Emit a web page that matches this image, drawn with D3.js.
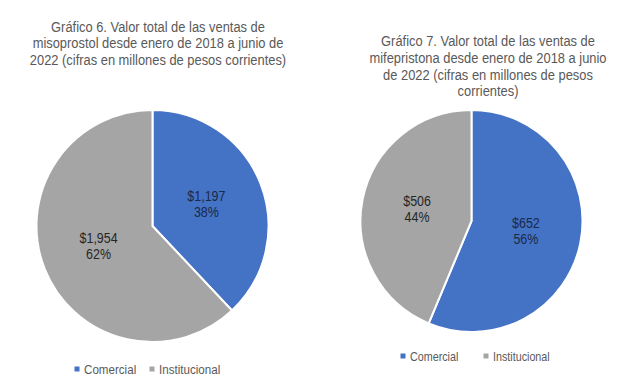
<!DOCTYPE html>
<html>
<head>
<meta charset="utf-8">
<script src="https://cdn.jsdelivr.net/npm/d3@7"></script>
<style>
  body { margin: 0; background: #fff; }
  svg text { font-family: "Liberation Sans Narrow", "Arial Narrow", "Liberation Sans", Arial, sans-serif; }
</style>
</head>
<body>
<div id="chart"></div>
<script>
// categorias y valores (millones de pesos corrientes)
var categorias = ["Comercial", "Institucional"];
var valoresMiso = [1197, 1954];
var valoresMife = [652, 506];
var colores = ["#4472C4", "#A5A5A5"];

var tituloMiso = ["Gráfico 6. Valor total de las ventas de",
                  "misoprostol desde enero de 2018 a junio de",
                  "2022 (cifras en millones de pesos corrientes)"];
var tituloMife = ["Gráfico 7. Valor total de las ventas de",
                  "mifepristona desde enero de 2018 a junio",
                  "de 2022 (cifras en millones de pesos",
                  "corrientes)"];

var width = 642,
    height = 387;

// la fuente del original es angosta: comprimo el texto en horizontal
var angosto = 0.86;

var svg = d3.select("#chart")
    .append("svg")
    .attr("width", width)
    .attr("height", height);

var color = d3.scaleOrdinal().domain(categorias).range(colores);
var formato = d3.format("$,");

function dibujarPie(opts) {
    var datos = categorias.map(function(c, i) { return {cat: c, valor: opts.valores[i]}; });
    var total = d3.sum(opts.valores);

    // titulo
    var t = svg.append("g")
        .attr("transform", "translate(" + opts.tx + "," + opts.ty + ") scale(" + angosto + ",1)")
        .append("text")
        .attr("text-anchor", "middle")
        .attr("fill", "#595959")
        .attr("font-size", opts.tituloSize);
    opts.titulo.forEach(function(linea, i) {
        t.append("tspan")
            .attr("x", 0)
            .attr("y", i * opts.lineH)
            .text(linea);
    });

    var g = svg.append("g")
        .attr("transform", "translate(" + opts.cx + "," + opts.cy + ")");

    var pie = d3.pie().sort(null).value(function(d) { return d.valor; });
    var arc = d3.arc().innerRadius(0).outerRadius(opts.r);

    var arcos = pie(datos);

    g.selectAll("path")
        .data(arcos)
        .enter().append("path")
        .attr("d", arc)
        .attr("fill", function(d) { return color(d.data.cat); })
        .attr("stroke", "#fff")
        .attr("stroke-width", 2);

    // etiquetas dentro de cada rebanada
    var lab = g.selectAll(".lab")
        .data(arcos)
        .enter().append("text")
        .attr("class", "lab")
        .attr("text-anchor", "middle")
        .attr("font-size", 14.5)
        .attr("fill", function(d, i) { return i === 0 ? "#1a2a48" : "#262626"; })
        .attr("transform", function(d) {
            return "translate(" + arc.centroid(d) + ") scale(" + angosto + ",1)";
        });
    lab.append("tspan")
        .attr("x", 0)
        .attr("y", -4)
        .text(function(d) { return formato(d.data.valor); });
    lab.append("tspan")
        .attr("x", 0)
        .attr("y", 12)
        .text(function(d) { return Math.round(d.data.valor / total * 100) + "%"; });

    // leyenda
    var items = svg.selectAll(null)
        .data(categorias)
        .enter().append("g")
        .attr("transform", function(d, i) { return "translate(" + opts.lx[i] + "," + opts.ly + ")"; });
    items.append("rect")
        .attr("x", -2.5)
        .attr("y", -2.5)
        .attr("width", 5)
        .attr("height", 5)
        .attr("fill", function(d) { return color(d); });
    items.append("text")
        .attr("transform", "translate(7,5) scale(" + angosto + ",1)")
        .attr("font-size", opts.leySize)
        .attr("fill", "#595959")
        .text(function(d) { return d; });
}

dibujarPie({
    valores: valoresMiso, titulo: tituloMiso,
    tx: 158, ty: 32, lineH: 16.5, tituloSize: 15,
    cx: 152.5, cy: 226, r: 116,
    lx: [77, 152], ly: 369, leySize: 13.5
});

dibujarPie({
    valores: valoresMife, titulo: tituloMife,
    tx: 488, ty: 46, lineH: 16.8, tituloSize: 15,
    cx: 471.5, cy: 221, r: 111,
    lx: [403, 486], ly: 356, leySize: 12.5
});
</script>
</body>
</html>
